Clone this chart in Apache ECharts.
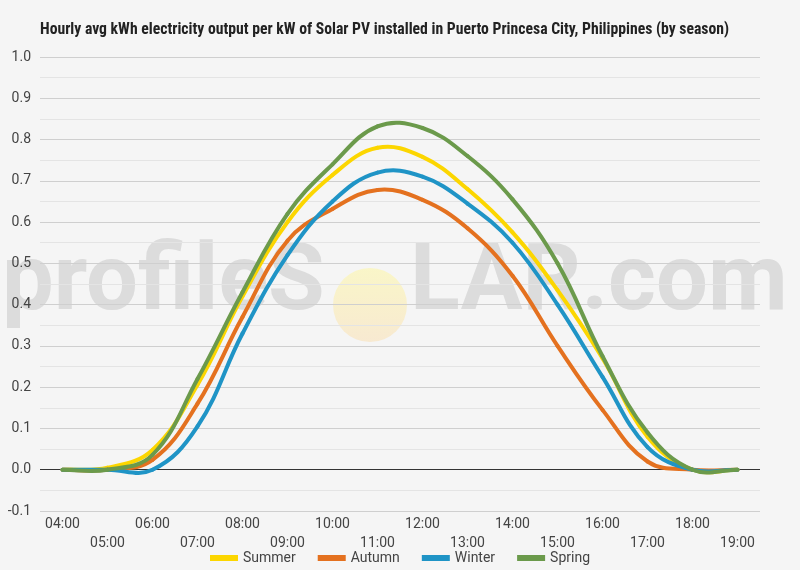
<!DOCTYPE html>
<html>
<head>
<meta charset="utf-8">
<script src="https://cdn.jsdelivr.net/npm/echarts@6/dist/echarts.min.js"></script>
<style>
  html, body { margin: 0; padding: 0; background: #f5f5f5; }
  #chart { width: 800px; height: 570px; }
</style>
</head>
<body>
<div id="chart"></div>
<script>
// Hour labels along the x axis
const hours = ['04:00', '05:00', '06:00', '07:00', '08:00', '09:00', '10:00', '11:00',
               '12:00', '13:00', '14:00', '15:00', '16:00', '17:00', '18:00', '19:00'];

// Hourly avg kWh per kW
const summer = [0.0, 0.005, 0.048, 0.206, 0.42, 0.60, 0.714, 0.78, 0.758, 0.68, 0.575, 0.435, 0.27, 0.08, 0.0, 0.0];
const autumn = [0.0, 0.0, 0.024, 0.16, 0.37, 0.555, 0.632, 0.678, 0.654, 0.585, 0.47, 0.30, 0.145, 0.02, 0.0, 0.0];
const winter = [0.0, 0.0, 0.0, 0.105, 0.33, 0.52, 0.65, 0.72, 0.71, 0.645, 0.55, 0.40, 0.225, 0.055, 0.0, 0.0];
const spring = [0.0, 0.0, 0.036, 0.22, 0.43, 0.62, 0.74, 0.832, 0.828, 0.76, 0.655, 0.50, 0.275, 0.09, 0.0, 0.0];

// Y axis range
const yMin = -0.1;
const yMax = 1.0;
const yStep = 0.1;

const seriesNames = ['Summer', 'Autumn', 'Winter', 'Spring'];
const seriesData = [summer, autumn, winter, spring];
const seriesColors = ['#fcd600', '#e4711f', '#1f94c6', '#6b9a4b'];
const TENSION = 0.4;

const chart = echarts.init(document.getElementById('chart'));

// control points for a cardinal spline (same idea as chart.js "tension")
function controlPoints(p0, p1, p2) {
    const d01 = Math.hypot(p1[0] - p0[0], p1[1] - p0[1]);
    const d12 = Math.hypot(p2[0] - p1[0], p2[1] - p1[1]);
    let s01 = d01 / (d01 + d12);
    let s12 = d12 / (d01 + d12);
    if (isNaN(s01)) s01 = 0;
    if (isNaN(s12)) s12 = 0;
    const fa = TENSION * s01;
    const fb = TENSION * s12;
    return {
        prev: [p1[0] - fa * (p2[0] - p0[0]), p1[1] - fa * (p2[1] - p0[1])],
        next: [p1[0] + fb * (p2[0] - p0[0]), p1[1] + fb * (p2[1] - p0[1])]
    };
}

function makeRenderItem(values, color) {
    return function (params, api) {
        const i = params.dataIndex;
        if (i >= values.length - 1) return null;
        const pt = k => api.coord([Math.max(0, Math.min(values.length - 1, k)),
                                   values[Math.max(0, Math.min(values.length - 1, k))]]);
        const a = controlPoints(pt(i - 1), pt(i), pt(i + 1));
        const b = controlPoints(pt(i), pt(i + 1), pt(i + 2));
        const p1 = pt(i);
        const p2 = pt(i + 1);
        return {
            type: 'bezierCurve',
            shape: {
                x1: p1[0], y1: p1[1],
                x2: p2[0], y2: p2[1],
                cpx1: a.next[0], cpy1: a.next[1],
                cpx2: b.prev[0], cpy2: b.prev[1]
            },
            style: { stroke: color, lineWidth: 4, fill: null, lineCap: 'round' }
        };
    };
}

const series = seriesNames.map((name, i) => ({
    name: name,
    type: 'custom',
    coordinateSystem: 'cartesian2d',
    data: seriesData[i].map((v, k) => [k, v]),
    encode: { x: 0, y: 1 },
    renderItem: makeRenderItem(seriesData[i], seriesColors[i]),
    itemStyle: { color: seriesColors[i] },
    z: 5
}));

// split line colours: the 0.0 line (second tick) is dark
const splitColors = [];
for (let v = yMin; v <= yMax + 1e-9; v += yStep) {
    splitColors.push(Math.abs(v) < 1e-9 ? '#333333' : '#cfcfcf');
}

const option = {
    backgroundColor: '#f5f5f5',
    animation: false,
    textStyle: { fontFamily: 'Roboto' },
    title: {
        text: 'Hourly avg kWh electricity output per kW of Solar PV installed in Puerto Princesa City, Philippines (by season)',
        left: 35,
        top: 17,
        textStyle: {
            fontFamily: '"Roboto Condensed", "Liberation Sans Narrow", Roboto',
            fontWeight: 'bold',
            fontSize: 15.7,
            color: '#222'
        }
    },
    graphic: [
        {
            type: 'text',
            z: -10,
            left: 2,
            top: 240,
            style: {
                text: 'profileS',
                font: 'bold 92px Roboto',
                fill: 'rgba(198,198,198,0.55)'
            }
        },
        {
            type: 'circle',
            z: -10,
            shape: { cx: 370, cy: 305, r: 37 },
            style: {
                fill: {
                    type: 'linear', x: 0, y: 0, x2: 0, y2: 1,
                    colorStops: [
                        { offset: 0, color: 'rgba(250,246,195,0.9)' },
                        { offset: 1, color: 'rgba(248,232,205,0.9)' }
                    ]
                }
            }
        },
        {
            type: 'text',
            z: -10,
            left: 410,
            top: 240,
            style: {
                text: 'LAR.com',
                font: 'bold 92px Roboto',
                fill: 'rgba(198,198,198,0.55)'
            }
        }
    ],
    legend: {
        bottom: 5,
        left: 'center',
        padding: 0,
        itemWidth: 28,
        itemHeight: 6,
        itemGap: 22,
        icon: 'rect',
        textStyle: { fontSize: 14, color: '#444' },
        data: seriesNames.map((n, i) => ({ name: n, itemStyle: { color: seriesColors[i] } }))
    },
    grid: {
        left: 40,
        right: 40,
        top: 57,
        bottom: 59,
        containLabel: false
    },
    xAxis: {
        type: 'category',
        data: hours,
        boundaryGap: true,
        axisLine: { show: false },
        axisTick: { show: false },
        axisLabel: {
            interval: 0,
            margin: 4,
            fontSize: 14,
            color: '#444',
            lineHeight: 19,
            formatter: (value, index) => (index % 2 === 1 ? '\n' + value : value)
        },
        splitLine: { show: false }
    },
    yAxis: {
        type: 'value',
        min: yMin,
        max: yMax,
        interval: yStep,
        axisLine: { show: false },
        axisTick: { show: false },
        axisLabel: {
            fontSize: 14,
            color: '#444',
            margin: 9,
            formatter: v => v.toFixed(1)
        },
        splitLine: { show: true, lineStyle: { color: splitColors, width: 1 } },
        minorTick: { show: false, splitNumber: 2 },
        minorSplitLine: { show: true, lineStyle: { color: '#e4e4e4', width: 1 } }
    },
    series: series
};

chart.setOption(option);
</script>
</body>
</html>
